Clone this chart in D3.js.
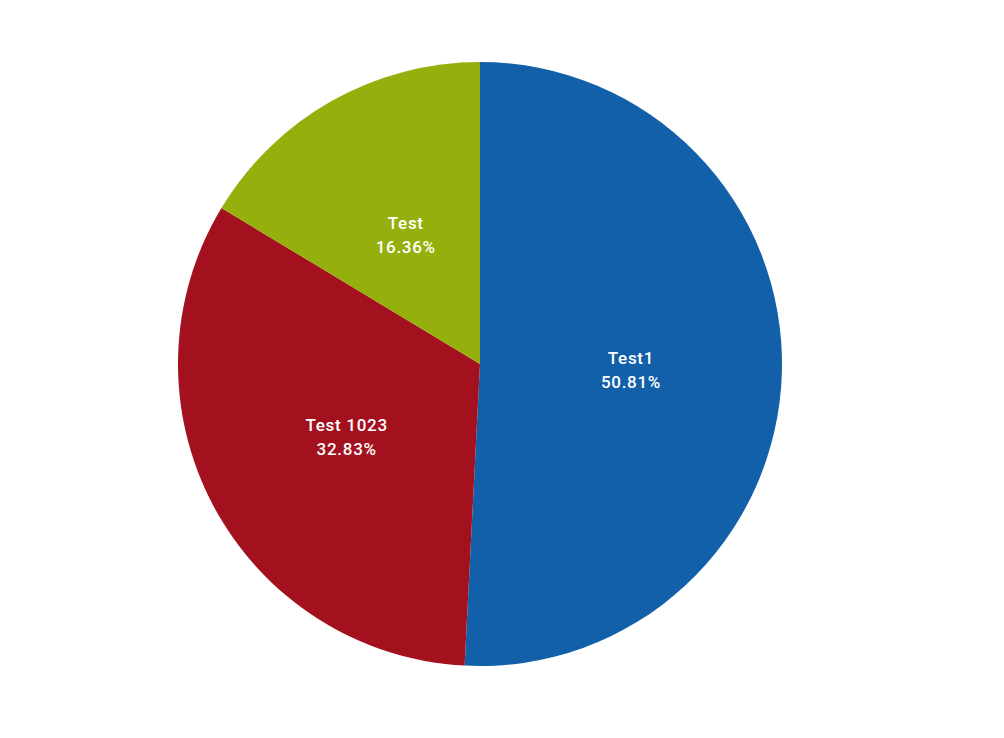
<!DOCTYPE html>
<html><head><meta charset="utf-8">
<script src="https://cdn.jsdelivr.net/npm/d3@7"></script>
<style>html,body{margin:0;padding:0;background:#fff;}</style>
</head><body>
<svg id="chart" width="1004" height="738"></svg>
<script>
const categories = ["Test1", "Test 1023", "Test"];
const values = [50.81, 32.83, 16.36];
const colors = ["#1260AA", "#A3111F", "#95B00C"];

const svg = d3.select("#chart");
const cx = 480, cy = 364, r = 302;
const g = svg.append("g").attr("transform", `translate(${cx},${cy})`);
const pie = d3.pie().sort(null).value(d => d)(values);
const arc = d3.arc().innerRadius(0).outerRadius(r);
g.selectAll("path").data(pie).join("path")
  .attr("d", arc).attr("fill", (d, i) => colors[i]);
const total = d3.sum(values);
const lab = g.selectAll("text").data(pie).join("text")
  .attr("transform", d => `translate(${arc.centroid(d)})`)
  .attr("text-anchor", "middle")
  .attr("fill", "#fff")
  .style("font-family", "Roboto, sans-serif")
  .style("font-weight", "500")
  .style("font-size", "17px")
  .style("letter-spacing", "0.7px");
lab.append("tspan").attr("x", 0).attr("y", -4).text((d, i) => categories[i]);
lab.append("tspan").attr("x", 0).attr("y", 20).text(d => (d.value / total * 100).toFixed(2) + "%");
</script>
</body></html>
